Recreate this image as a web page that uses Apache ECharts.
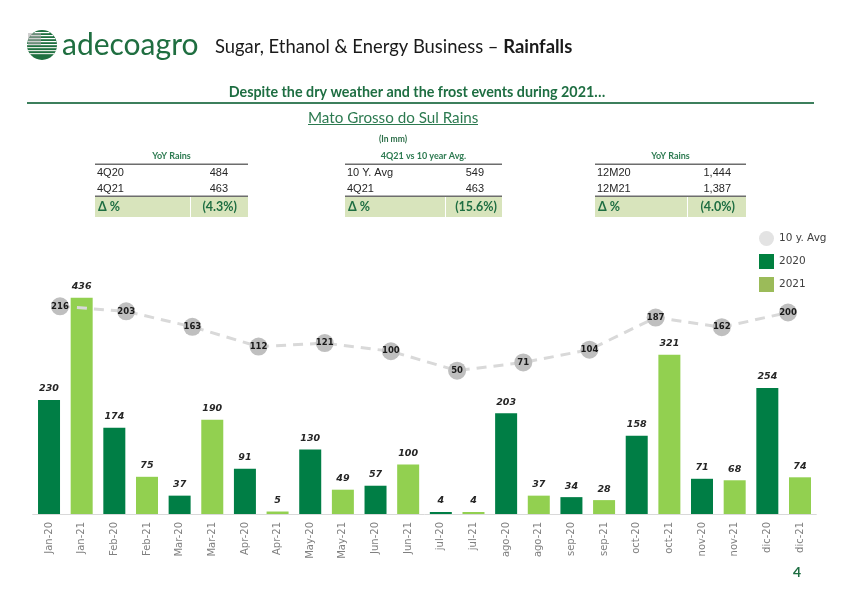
<!DOCTYPE html>
<html><head><meta charset="utf-8">
<script src="https://cdn.jsdelivr.net/npm/echarts@6/dist/echarts.min.js"></script>
<style>html,body{margin:0;padding:0;background:#fff}#c{width:842px;height:595px}</style>
</head><body><div id="c"></div>
<script>
const categories = ['Jan-20','Jan-21','Feb-20','Feb-21','Mar-20','Mar-21','Apr-20','Apr-21','May-20','May-21','Jun-20','Jun-21','jul-20','jul-21','ago-20','ago-21','sep-20','sep-21','oct-20','oct-21','nov-20','nov-21','dic-20','dic-21'];
const months = ['Jan','Feb','Mar','Apr','May','Jun','jul','ago','sep','oct','nov','dic'];
const rains2020 = [230,174,37,91,130,57,4,203,34,158,71,254];
const rains2021 = [436,75,190,5,49,100,4,37,28,321,68,74];
const avg10y = [216,203,163,112,121,100,50,71,104,187,162,200];

const table1Title = 'YoY Rains';
const table1Rows = [['4Q20','484'],['4Q21','463']];
const table1Delta = '(4.3%)';
const table2Title = '4Q21 vs 10 year Avg.';
const table2Rows = [['10 Y. Avg','549'],['4Q21','463']];
const table2Delta = '(15.6%)';
const table3Title = 'YoY Rains';
const table3Rows = [['12M20','1,444'],['12M21','1,387']];
const table3Delta = '(4.0%)';

const s2020 = [], s2021 = [];
for (let i = 0; i < months.length; i++) {
  s2020.push(rains2020[i], null);
  s2021.push(null, rains2021[i]);
}

const DG = '#1E6E42';
const graphics = [];
// logo globe
graphics.push({type:'circle', shape:{cx:42,cy:45,r:15}, style:{fill:'#1F7040'}});
for (let k = 0; k < 8; k++) {
  const y = 32 + k * 3;
  const dy = y - 45;
  const half = Math.sqrt(Math.max(0, 225 - dy*dy));
  graphics.push({type:'rect', shape:{x:42-half, y:y, width:2*half, height:1.2},
    style:{fill: k < 5 ? '#ffffff' : '#dfe9df'}});
}
graphics.push({type:'rect', shape:{x:28, y:33, width:13, height:12}, style:{fill:'rgba(170,170,170,0.55)'}});
graphics.push({type:'text', style:{x:62, y:45, text:'adecoagro', font:'30px Lato', fill:'#1F6E40', textVerticalAlign:'middle'}});
graphics.push({type:'text', style:{x:215, y:47, text:'{n|Sugar, Ethanol & Energy Business – }{b|Rainfalls}',
  textVerticalAlign:'middle',
  rich:{n:{fontFamily:'Lato', fontSize:18.4, fill:'#1a1a1a'}, b:{fontFamily:'Lato', fontSize:18.4, fontWeight:'bold', fill:'#1a1a1a'}}}});
// subtitle & rule
graphics.push({type:'text', style:{x:417, y:92, text:'Despite the dry weather and the frost events during 2021…', font:'bold 14.3px Lato', fill:DG, textAlign:'center', textVerticalAlign:'middle'}});
graphics.push({type:'rect', shape:{x:27, y:102, width:787, height:2}, style:{fill:'#3C7F5C'}});
graphics.push({type:'text', style:{x:308, y:118, text:'Mato Grosso do Sul Rains', font:'15.2px Lato', fill:'#2C7A50', textVerticalAlign:'middle'}});
graphics.push({type:'rect', shape:{x:308, y:124, width:170, height:1}, style:{fill:'#2C7A50'}});
graphics.push({type:'text', style:{x:393, y:139, text:'(In mm)', font:'bold 8.5px Lato', fill:'#2C6E48', textAlign:'center', textVerticalAlign:'middle'}});

function table(x0, x1, div, valRight, deltaRight, title, rows, delta) {
  graphics.push({type:'text', style:{x:(x0+x1)/2, y:156, text:title, font:'bold 9px Lato', fill:'#2C7A50', textAlign:'center', textVerticalAlign:'middle'}});
  graphics.push({type:'rect', shape:{x:x0, y:163.5, width:x1-x0, height:1.6}, style:{fill:'#6d6d6d'}});
  rows.forEach((r, i) => {
    const y = 173 + i * 15.5;
    graphics.push({type:'text', style:{x:x0+2, y:y, text:r[0], font:'11px "Liberation Sans"', fill:'#262626', textVerticalAlign:'middle'}});
    graphics.push({type:'text', style:{x:valRight, y:y, text:r[1], font:'11px "Liberation Sans"', fill:'#262626', textAlign:'right', textVerticalAlign:'middle'}});
  });
  graphics.push({type:'rect', shape:{x:x0, y:197, width:x1-x0, height:20}, style:{fill:'#D8E4BC'}});
  graphics.push({type:'rect', shape:{x:x0, y:195.5, width:x1-x0, height:1.6}, style:{fill:'#6d6d6d'}});
  graphics.push({type:'rect', shape:{x:div, y:197, width:1, height:20}, style:{fill:'#ffffff'}});
  graphics.push({type:'text', style:{x:x0+3, y:207, text:'Δ %', font:'bold 12.5px Lato', fill:'#1E6E42', textVerticalAlign:'middle'}});
  graphics.push({type:'text', style:{x:deltaRight, y:207, text:delta, font:'bold 12.5px Lato', fill:'#1E6E42', textAlign:'right', textVerticalAlign:'middle'}});
}
table(95, 248, 190, 228, 237, table1Title, table1Rows, table1Delta);
table(345, 502, 445, 484, 497, table2Title, table2Rows, table2Delta);
table(595, 746, 687, 731, 735, table3Title, table3Rows, table3Delta);
graphics.push({type:'text', style:{x:797, y:572, text:'4', font:'bold 14px Lato', fill:'#1E6E42', textAlign:'center', textVerticalAlign:'middle'}});

const barLabel = {show:true, position:'top', distance:6, fontFamily:'DejaVu Sans', fontStyle:'italic', fontWeight:'bold', fontSize:9.5, color:'#262626'};

const chart = echarts.init(document.getElementById('c'), null, {renderer:'canvas'});
chart.setOption({
  animation:false,
  backgroundColor:'#ffffff',
  graphic: graphics,
  legend: {orient:'vertical', left:754, top:226, itemWidth:15, itemHeight:15, itemGap:8,
    textStyle:{fontFamily:'DejaVu Sans', fontSize:10.5, color:'#404040'},
    data:[{name:'10 y. Avg', icon:'circle', itemStyle:{color:'#E3E3E3'}},
          {name:'2020', icon:'rect', itemStyle:{color:'#00803F'}},
          {name:'2021', icon:'rect', itemStyle:{color:'#9BBB59'}}]},
  grid: [
    {left:32.7, right:25.7, top:266, bottom:81},
    {left:26.9, right:20.9, top:266, bottom:81}
  ],
  xAxis: [
    {type:'category', data:categories, gridIndex:0,
     axisLine:{lineStyle:{color:'#D9D9D9', width:1}}, axisTick:{show:false},
     axisLabel:{rotate:90, fontFamily:'DejaVu Sans', fontSize:10, color:'#808080', margin:8, interval:0}},
    {type:'category', data:months, gridIndex:1, show:false}
  ],
  yAxis: [
    {type:'value', gridIndex:0, min:0, max:500, show:false, splitLine:{show:false}},
    {type:'value', gridIndex:1, min:-320, max:320, show:false, splitLine:{show:false}}
  ],
  series: [
    {name:'2020', type:'bar', data:s2020, barWidth:22, barGap:'-100%', itemStyle:{color:'#007E45'}, label:barLabel},
    {name:'2021', type:'bar', data:s2021, barWidth:22, barGap:'-100%', itemStyle:{color:'#92D050'}, label:barLabel},
    {name:'10 y. Avg', type:'line', data:avg10y, xAxisIndex:1, yAxisIndex:1, z:5,
     symbol:'circle', symbolSize:18, itemStyle:{color:'#BFBFBF'},
     lineStyle:{color:'#D9D9D9', width:3, type:[10,7]},
     label:{show:true, position:'inside', fontFamily:'DejaVu Sans', fontWeight:'bold', fontSize:8.5, color:'#1a1a1a'}}
  ]
});
</script></body></html>
